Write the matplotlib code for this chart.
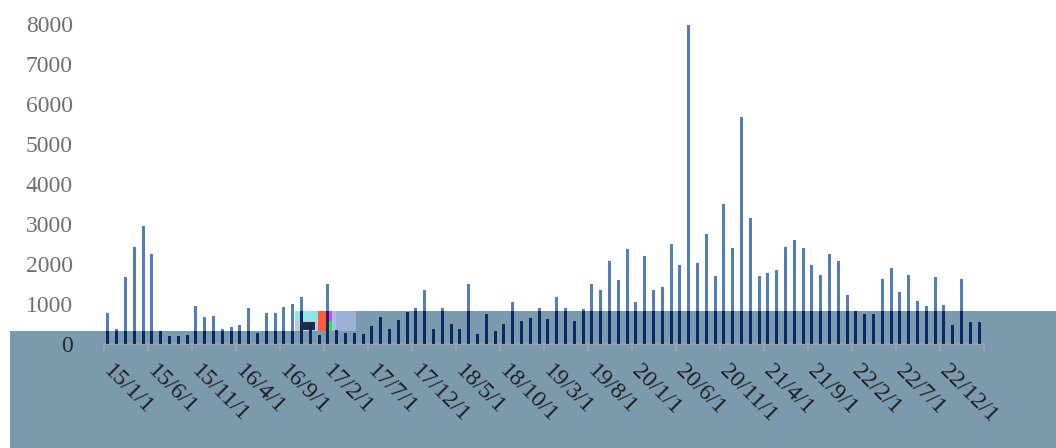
import matplotlib
matplotlib.use('Agg')
import matplotlib.pyplot as plt
from matplotlib.patches import Polygon, Rectangle
from matplotlib.transforms import ScaledTranslation

# monthly values, 2015/1 .. 2023/4
values = [
    770, 380, 1670, 2430, 2950, 2240, 320, 200, 200, 230,
    960, 670, 700, 380, 420, 480, 890, 280, 770, 770,
    930, 990, 1180, 480, 230, 1500, 350, 270, 285, 250,
    450, 680, 385, 610, 800, 890, 1345, 385, 890, 510,
    385, 1500, 250, 750, 325, 510, 1055, 575, 640, 890,
    615, 1180, 890, 575, 865, 1500, 1350, 2075, 1600, 2365,
    1055, 2210, 1350, 1430, 2500, 1975, 7970, 2015, 2750, 1700,
    3490, 2390, 5665, 3140, 1700, 1785, 1850, 2430, 2600, 2390,
    1975, 1725, 2240, 2075, 1215, 825, 740, 740, 1635, 1890,
    1310, 1725, 1085, 960, 1665, 985, 485, 1635, 540, 540,
]
tick_labels = ['15/1/1', '15/6/1', '15/11/1', '16/4/1', '16/9/1', '17/2/1',
               '17/7/1', '17/12/1', '18/5/1', '18/10/1', '19/3/1', '19/8/1',
               '20/1/1', '20/6/1', '20/11/1', '21/4/1', '21/9/1', '22/2/1',
               '22/7/1', '22/12/1']
y_ticks = [0, 1000, 2000, 3000, 4000, 5000, 6000, 7000, 8000]

W, H = 1056, 448
fig = plt.figure(figsize=(W / 100, H / 100), dpi=100)
fig.patch.set_facecolor('white')
ax = fig.add_axes([103.5 / W, 1 - 344 / H, (983.5 - 103.5) / W, (344 - 24) / H])
ax.set_facecolor('none')

# grey-blue block over the lower part of the picture
def px(x, y):
    return (x / W, 1 - y / H)

overlay = Polygon([px(10, 448), px(10, 331), px(295, 331), px(295, 311),
                   px(1056, 311), px(1056, 448)], closed=True,
                  transform=fig.transFigure, facecolor='#7b9aad',
                  edgecolor='none', zorder=-5)
fig.add_artist(overlay)

# small garbled strip
garble = [(295, 311, 23, 10, '#8fe6e6'), (295, 321, 23, 10, '#c0c8e0'),
          (303, 322, 12, 8, '#203040'), (318, 311, 8, 20, '#ff5a3c'),
          (326, 311, 6, 20, '#e640e6'), (327, 321, 6, 10, '#40e040'),
          (332, 311, 4, 20, '#a0c0f0'), (336, 311, 20, 20, '#9cb0d8')]
for gx, gy, gw, gh, gc in garble:
    fig.add_artist(Rectangle(px(gx, gy + gh), gw / W, gh / H,
                             transform=fig.transFigure, facecolor=gc,
                             edgecolor='none', zorder=-4))

x = list(range(len(values)))
ax.bar(x, values, width=0.34, color='#527fba', zorder=2)
dark = ax.bar(x, values, width=0.34, color='#0b2966', zorder=3)
for b in dark:
    b.set_clip_path(overlay)

ax.set_xlim(-0.5, len(values) - 0.5)
ax.set_ylim(0, 8000)

for s in ['top', 'right', 'left']:
    ax.spines[s].set_visible(False)
ax.spines['bottom'].set_color('#a6a6a6')
ax.spines['bottom'].set_linewidth(1.2)

ax.set_yticks(y_ticks)
ax.set_yticklabels([str(v) for v in y_ticks])
ax.tick_params(axis='y', length=0, pad=22, labelsize=17, labelcolor='#707070')
for lab in ax.get_yticklabels():
    lab.set_fontfamily('Liberation Serif')
ax.get_yticklabels()[0].set_color('#2a2a2a')

ax.set_xticks([i - 0.5 for i in range(0, len(values) + 1, 5)])
ax.set_xticklabels([])
ax.tick_params(axis='x', which='major', length=5, width=1.2, color='#a6a6a6')
ax.set_xticks([i for i in range(0, len(values), 5)], minor=True)
ax.set_xticklabels(tick_labels, minor=True, rotation=-45, ha='left', va='top',
                   rotation_mode='anchor', fontsize=17,
                   fontfamily='Liberation Serif', color='#1e1e1e')
ax.tick_params(axis='x', which='minor', length=0, pad=10)
shift = ScaledTranslation(6 / 100, -3 / 100, fig.dpi_scale_trans)
for lab in ax.get_xticklabels(minor=True):
    lab.set_transform(lab.get_transform() + shift)

fig.savefig('out.png', dpi=100, facecolor='white')
